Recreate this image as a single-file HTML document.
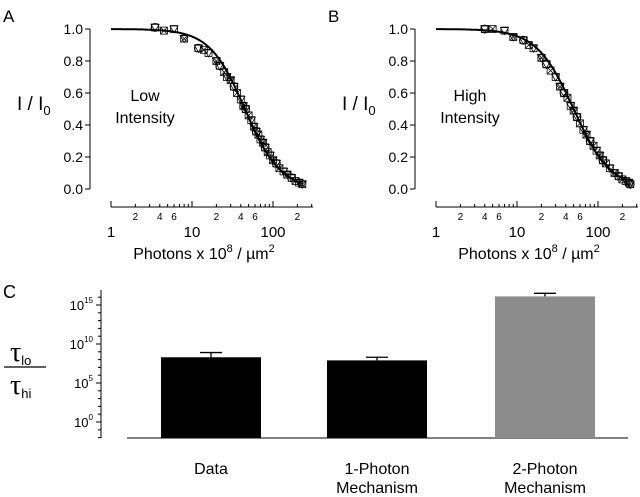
<!DOCTYPE html>
<html><head><meta charset="utf-8"><style>
body{margin:0;background:#fff;}
svg{display:block;font-family:"Liberation Sans",sans-serif;}
</style></head><body>
<svg id="fig" width="640" height="497" viewBox="0 0 640 497">
</svg>
<script>
// ---- data ----
const x50A = 45, hillA = 2.0, x50B = 50, hillB = 1.9;
const lowX = [3.5,4.5,6,8,12,14,16,20,22,25,27,30,33,36,40,43,46,50,54,58,62,66,70,75,80,86,92,100,110,120,135,150,170,190,210,230];
const lowY = [1.01,0.99,1.0,0.94,0.88,0.87,0.85,0.80,0.77,0.73,0.70,0.68,0.64,0.60,0.56,0.52,0.50,0.46,0.43,0.39,0.36,0.34,0.31,0.29,0.26,0.23,0.21,0.18,0.16,0.13,0.11,0.09,0.07,0.05,0.04,0.03];
const highX = [4,5,7,9,12,14,16,20,23,26,30,34,38,42,46,50,55,60,66,72,80,88,96,105,115,125,140,160,180,200,220,240,250];
const highY = [1.0,1.0,0.99,0.95,0.93,0.90,0.88,0.82,0.78,0.74,0.70,0.64,0.60,0.57,0.52,0.49,0.45,0.41,0.37,0.34,0.30,0.27,0.24,0.21,0.18,0.16,0.13,0.10,0.08,0.06,0.05,0.04,0.03];
const yTicks = ['0.0','0.2','0.4','0.6','0.8','1.0'];
const barCats = [['Data'],['1-Photon','Mechanism'],['2-Photon','Mechanism']];
const barLog = [8.3, 7.9, 16.1];
const errLog = [8.9, 8.3, 16.5];
const cTicks = [0,5,10,15];

const svg=document.getElementById('fig');
const NS='http://www.w3.org/2000/svg';
function el(t,a,txt){const e=document.createElementNS(NS,t);for(const k in a)e.setAttribute(k,a[k]);if(txt!==undefined)e.textContent=txt;svg.appendChild(e);return e;}

function panel(ox,label,xs,ys,x50,hill,note1,note2){
  const X0=ox+111, dec=81, Yb=189, Yh=160;
  const xs_=v=>X0+Math.log10(v)*dec, ys_=v=>Yb-v*Yh;
  let t=el('text',{x:ox+3,y:22,'font-size':17},label);
  
  
  let a=el('line',{x1:ox+90,y1:ys_(1),x2:ox+90,y2:ys_(0),stroke:'#000','stroke-width':1});
  
  
  yTicks.forEach(s=>{const v=+s;el('line',{x1:ox+85,x2:ox+90,y1:ys_(v),y2:ys_(v),stroke:'#000'});
    const tt=el('text',{x:ox+83,y:ys_(v)+5,'font-size':14,'text-anchor':'end'},s);
    
    });
  let yl=el('text',{x:ox+17,y:110,'font-size':19});
  
  
  yl.innerHTML='I / I<tspan font-size="13" dy="5">0</tspan>';
  let xa=el('line',{x1:xs_(1),x2:xs_(1)+202,y1:207,y2:207,stroke:'#000'});
  
  
  for(let d=0;d<3;d++)for(let m=1;m<10;m++){const v=m*Math.pow(10,d);const px=xs_(v);if(px>xs_(1)+202)break;
    el('line',{x1:px,x2:px,y1:207,y2:m==1?201:204,stroke:'#000'});
    if(m==2||m==4||m==6)el('text',{x:px,y:220,'font-size':10,'text-anchor':'middle'},m);}
  ['1','10','100'].forEach(s=>{const tt=el('text',{x:xs_(+s),y:237,'font-size':15,'text-anchor':'middle'},s);
    
    });
  let xt=el('text',{x:ox+204,y:259,'font-size':16,'text-anchor':'middle'});
  
  
  xt.innerHTML='Photons x 10<tspan font-size="11" dy="-7">8</tspan><tspan dy="7"> / µm</tspan><tspan font-size="11" dy="-7">2</tspan>';
  el('text',{x:ox+145,y:101,'font-size':16,'text-anchor':'middle'},note1);
  el('text',{x:ox+145,y:123,'font-size':16,'text-anchor':'middle'},note2);
  // markers
  xs.forEach((xv,i)=>{const cx=xs_(xv),cy=ys_(ys[i]);const k=i%4;
    const g=document.createElementNS(NS,'g');svg.appendChild(g);
    
    
    const add=(t,a)=>{const e=document.createElementNS(NS,t);for(const q in a)e.setAttribute(q,a[q]);e.setAttribute('fill','none');e.setAttribute('stroke','#000');e.setAttribute('stroke-width','0.8');g.appendChild(e);};
    if(k==0)add('circle',{cx:cx,cy:cy,r:4});
    add('rect',{x:cx-3.5,y:cy-3.5,width:7,height:7});
    if(k!=1)add('path',{d:`M${cx-4},${cy-3}L${cx+4},${cy-3}L${cx},${cy+4}Z`});
    if(k%2)add('path',{d:`M${cx-3},${cy-3}L${cx+3},${cy+3}M${cx+3},${cy-3}L${cx-3},${cy+3}`});
  });
  // fit
  let d='';for(let i=0;i<=100;i++){const v=Math.pow(10,i*2.35/100);d+=(i?'L':'M')+xs_(v).toFixed(1)+','+ys_(1/(1+Math.pow(v/x50,hill))).toFixed(1);}
  const p=el('path',{d:d,fill:'none',stroke:'#000','stroke-width':2});
  
  
}
panel(0,'A',lowX,lowY,x50A,hillA,'Low','Intensity');
panel(325,'B',highX,highY,x50B,hillB,'High','Intensity');

// ---- panel C ----
const cy0=422, perDec=7.8, yC=v=>cy0-v*perDec;
el('text',{x:3,y:298,'font-size':18},'C');
let ca=el('line',{x1:101,x2:101,y1:290,y2:438,stroke:'#000'});


for(let v=-2;v<=17;v++){if(yC(v)<290)break;el('line',{x1:v%5==0?96:98,x2:101,y1:yC(v),y2:yC(v),stroke:'#000'});}
cTicks.forEach(v=>{const t=el('text',{x:93,y:yC(v)+5,'font-size':13,'text-anchor':'end'});
  
  
  t.innerHTML='10<tspan font-size="8" dy="-7">'+v+'</tspan>';});
let bl=el('line',{x1:127,x2:628,y1:438,y2:438,stroke:'#000'});


const barX=[161,327,495], barW=100;
barLog.forEach((v,i)=>{
  const top=yC(v);
  const r=el('rect',{x:barX[i],y:top,width:barW,height:438-top,fill:i==2?'#8c8c8c':'#000'});
  
  
  const cx=barX[i]+barW/2, et=yC(errLog[i]);
  const e=el('path',{d:`M${cx},${top}L${cx},${et}M${cx-11},${et}L${cx+11},${et}`,stroke:'#000','stroke-width':1.3,fill:'none'});
  
  
  barCats[i].forEach((s,j)=>{const t=el('text',{x:cx,y:474+j*19,'font-size':16,'text-anchor':'middle'},s);
    
    });
});
let tl=el('text',{x:10,y:361,'font-size':28,'font-family':'Liberation Serif'});


tl.innerHTML='τ<tspan font-size="13" font-family="Liberation Sans" dy="4">lo</tspan>';
el('line',{x1:4,x2:46,y1:367,y2:367,stroke:'#000','stroke-width':1.2});
let th=el('text',{x:10,y:394,'font-size':28,'font-family':'Liberation Serif'});


th.innerHTML='τ<tspan font-size="13" font-family="Liberation Sans" dy="4">hi</tspan>';
</script>
</body></html>
